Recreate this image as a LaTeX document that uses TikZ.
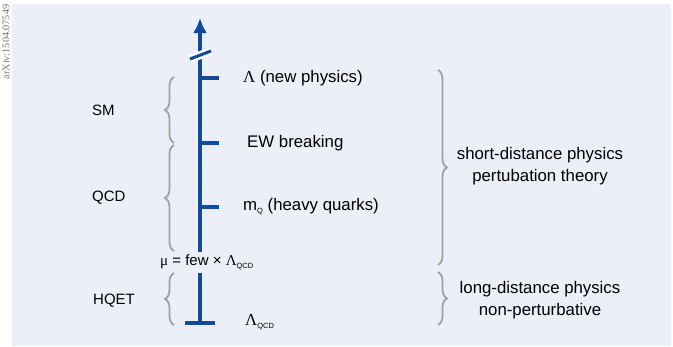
\documentclass[tikz,border=0pt]{standalone}
\usepackage{fontspec}
\setmainfont{Liberation Sans}
\newfontfamily\greekfont{Liberation Serif}
\usetikzlibrary{arrows.meta,decorations.pathreplacing}
\definecolor{bgpanel}{RGB}{236,239,248}
\definecolor{axisblue}{RGB}{16,76,153}
\definecolor{bracegray}{RGB}{160,160,160}
\newcommand{\lowsub}[1]{\raisebox{-3pt}{\fontsize{7.5}{8}\selectfont #1}}
\begin{document}
\begin{tikzpicture}[x=1pt, y=-1pt, >={Latex[length=15pt,width=14pt]},
  axis/.style={draw=axisblue, line width=4pt},
  bracket/.style={draw=bracegray, line width=1.8pt, decorate, decoration={brace, amplitude=9pt}},
  lbl/.style={font=\fontsize{16.8}{20}\selectfont, inner sep=0pt, anchor=west},
  theory/.style={font=\fontsize{15}{18}\selectfont, inner sep=0pt, anchor=west},
  sidetext/.style={font=\fontsize{16.8}{22}\selectfont, align=center, inner sep=0pt}]
\useasboundingbox (0,0) rectangle (673,346);
\fill[bgpanel] (12,4) rectangle (671,346);
\node[rotate=90, font=\greekfont\fontsize{10.2}{11}\selectfont, text=black!55] (arxiv) at (6,42) {arXiv:1504.07549};

% energy scale
\coordinate (top) at (200,18);
\coordinate (gapup) at (200,252);
\coordinate (gaplow) at (200,273);
\coordinate (base) at (200,323);
\coordinate (newphys) at (200,78);
\coordinate (ew) at (200,143);
\coordinate (heavy) at (200,207);
\draw[axis, ->] (gapup) -- (top);
\draw[axis] (gaplow) -- (base);
\draw[axis] ([xshift=-15pt]base) -- ([xshift=15pt]base);
\foreach \c in {newphys, ew, heavy}
  \draw[axis] (\c) -- ++(19,0);
% break mark
\draw[white, line width=8pt] (190,59) -- (211,51);
\draw[axisblue, line width=3pt] (190,59) -- (211,51);

\node[lbl] (lnew) at (243,78) {{\greekfont Λ} (new physics)};
\node[lbl] (lew) at (247,143) {EW breaking};
\node[lbl] (lmq) at (243,207) {m\lowsub{Q} (heavy quarks)};
\node[lbl, font=\fontsize{15}{18}\selectfont] (lmu) at (160,262) {{\greekfont μ} = few × {\greekfont Λ}\lowsub{QCD}};
\node[lbl] (lqcd) at (245,322) {{\greekfont Λ}\lowsub{QCD}};

% effective theories
\node[theory] (sm) at (92,110) {SM};
\node[theory] (qcd) at (92,198) {QCD};
\node[theory] (hqet) at (93,301) {HQET};
\draw[bracket] (174,143) -- (174,77);
\draw[bracket] (174,251) -- (174,145);
\draw[bracket] (174,325) -- (174,273);

% regimes
\draw[bracket] (438,70) -- (438,265);
\draw[bracket] (438,272) -- (438,325);
\node[sidetext] (short) at (540,166) {short-distance physics\\pertubation theory};
\node[sidetext] (long) at (540,300) {long-distance physics\\non-perturbative};
\end{tikzpicture}
\end{document}
